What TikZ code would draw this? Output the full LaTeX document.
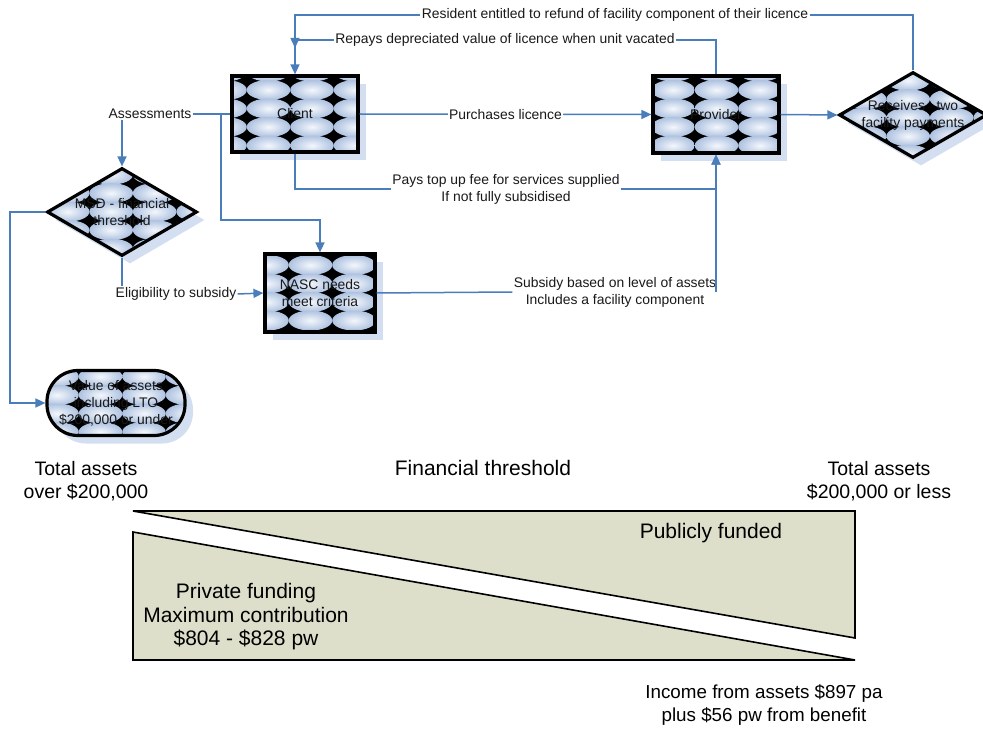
\documentclass[tikz,border=0pt]{standalone}
\usepackage{fontspec}
\setmainfont{Liberation Sans}
\usetikzlibrary{shapes.geometric,shapes.misc,arrows.meta,shadows,calc}
\definecolor{lineblue}{HTML}{4A7EBB}
\definecolor{shadowblue}{HTML}{D3DFF1}
\definecolor{bubin}{HTML}{F4F7FC}
\definecolor{bubout}{HTML}{AEC2E0}
\definecolor{khaki}{HTML}{DDDFCB}
\tikzset{
  bubbles/.style 2 args={path picture={
    \fill[black] (path picture bounding box.south west) rectangle (path picture bounding box.north east);
    \foreach \i in {-1,...,4}{\foreach \j in {-1,...,5}{
      \shade[inner color=bubin,outer color=bubout]
        ([xshift=#1+\i*43.5pt, yshift=-#2-\j*18.5pt]path picture bounding box.north west)
        ellipse [x radius=21.8pt, y radius=10pt];
    }}
  }},
  shapebase/.style={draw=black, line width=3.2pt, inner sep=0pt,
    general shadow={fill=shadowblue, shadow xshift=8pt, shadow yshift=-8pt}},
  boxnode/.style={shapebase, rectangle},
  dianode/.style={shapebase, diamond},
  pillnode/.style={shapebase, rectangle, rounded corners=31pt},
  shapetext/.style={font=\fontsize{13.9}{17}\selectfont, align=center, text=black!90, inner sep=0pt},
  conn/.style={draw=lineblue, line width=1.5pt},
  arr/.style={-{Triangle[length=10pt,width=9pt]}},
  lbl/.style={fill=white, inner sep=1.2pt, font=\fontsize{13.9}{17}\selectfont, align=center, text=black!90},
  bigtxt/.style={font=\fontsize{19.5}{23.5}\selectfont, align=center, inner sep=0pt},
  bandtxt/.style={font=\fontsize{21}{23.5}\selectfont, align=center, inner sep=0pt},
  band/.style={draw=black, line width=1.6pt, fill=khaki, line join=miter}
}
\begin{document}
\begin{tikzpicture}[x=1pt,y=-1pt]
\useasboundingbox (0,0) rectangle (983,730);

% ---- shapes ----
\node[boxnode, bubbles={-7pt}{14pt}, minimum width=126pt, minimum height=76pt] (client) at (295,114) {};
\node[shapetext] (clientt) at (client) {Client};
\node[boxnode, bubbles={20pt}{14pt}, minimum width=126pt, minimum height=77pt] (prov) at (716,114.5) {};
\node[shapetext] (provt) at (prov) {Provider};
\node[dianode, bubbles={25pt}{8pt}, minimum width=148pt, minimum height=86pt] (recv) at (913,115) {};
\node[shapetext] (recvt) at (recv) {Receives\ \ \ two\\facility payments};
\node[dianode, bubbles={20pt}{6pt}, minimum width=150pt, minimum height=88pt] (msd) at (122,212) {};
\node[shapetext] (msdt) at (msd) {MSD - financial\\threshold};
\node[boxnode, bubbles={2pt}{11pt}, minimum width=110pt, minimum height=78pt] (nasc) at (320,293) {};
\node[shapetext] (nasct) at (nasc) {NASC needs\\meet criteria};
\node[pillnode, bubbles={10pt}{6pt}, minimum width=138pt, minimum height=65pt] (val) at (116,403) {};
\node[shapetext] (valt) at (val) {Value of assets\\including LTO\\\$200,000 or under};

% ---- labels on connectors ----
\node[lbl] (resl) at (615,15) {Resident entitled to refund of facility component of their licence};
\node[lbl] (repl) at (505,40) {Repays depreciated value of licence when unit vacated};
\node[lbl] (assl) at (150,114) {Assessments};
\node[lbl] (payl) at (506,189) {Pays top up fee for services supplied\\If not fully subsidised};
\node[lbl] (elil) at (176,294) {Eligibility to subsidy};
\node[lbl] (subl) at (615,292) {Subsidy based on level of assets\\Includes a facility component};

\coordinate (br) at (221,114);
\coordinate (br2) at (221,220);
\coordinate (lft) at (10,213);
\coordinate (resend) at (295,48);

% ---- connectors ----
\draw[conn] (recv.north) |- (resl.east);
\draw[conn,arr] (resl.west) -| (resend);
\draw[conn] (prov.north) |- (repl.east);
\draw[conn,arr] (repl.west) -| (client.north);
\draw[conn,arr] (client.east) -- node[lbl] (purl) {Purchases licence} (prov.west);
\draw[conn,arr] (prov.east) -- (recv.west);
\draw[conn] (client.south) |- (payl.west);
\draw[conn,arr] (payl.east) -| (prov.south);
\draw[conn] (client.west) -- (assl.east);
\draw[conn,arr] (br) -- (br2) -| (nasc.north);
\draw[conn,arr] (assl.south -| msd.north) -- (msd.north);
\draw[conn] (msd.south) -- (msd.south |- elil.north);
\draw[conn,arr] (elil.east) -- (nasc.west);
\draw[conn,arr] (msd.west) -- (msd.west -| lft) |- (val.west);
\draw[conn] (nasc.east) -- (subl.west);
\draw[conn,arr] (prov.south |- subl.east) -- (prov.south);

% ---- funding bands ----
\draw[band] (133,511) -- (855,511) -- (855,638) -- cycle;
\draw[band] (133,532) -- (855,660) -- (133,660) -- cycle;

\node[bigtxt] (tl) at (86,481) {Total assets\\over \$200,000};
\node[bandtxt] (ft) at (483,468) {Financial threshold};
\node[bigtxt] (tr) at (879,481) {Total assets\\\$200,000 or less};
\node[bandtxt] (pub) at (711,533) {Publicly funded};
\node[bandtxt] (priv) at (246,617) {Private funding\\Maximum contribution\\\$804 - \$828 pw};
\node[font=\fontsize{18.8}{23}\selectfont, align=center, inner sep=0pt] (inc) at (764,705) {Income from assets \$897 pa\\plus \$56 pw from benefit};
\end{tikzpicture}
\end{document}
